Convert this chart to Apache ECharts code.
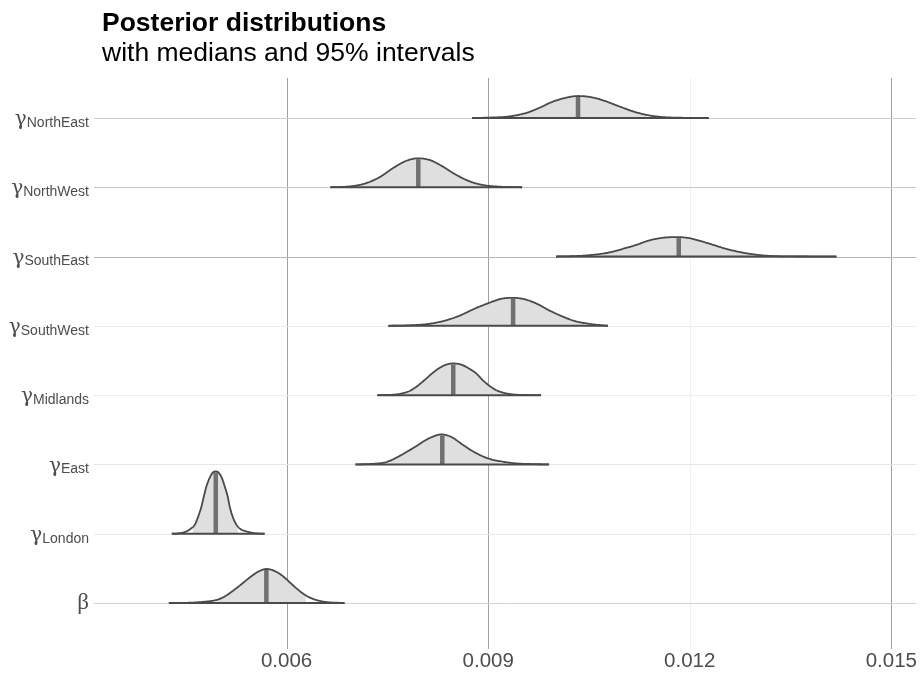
<!DOCTYPE html>
<html><head><meta charset="utf-8">
<script src="https://cdn.jsdelivr.net/npm/echarts@6/dist/echarts.min.js"></script>
<style>html,body{margin:0;padding:0;background:#fff}#c{width:920px;height:677px}</style>
</head><body><div id="c"></div>
<script>
// rows from bottom (0) to top (7)
const rowNames = ['β', 'London', 'East', 'Midlands', 'SouthWest', 'SouthEast', 'NorthWest', 'NorthEast'];
const xTicks = [0.006, 0.009, 0.012, 0.015];

const xBeta = [0.004248,0.004559,0.004782,0.004956,0.005079,0.005198,0.005332,0.005451,0.005569,0.005699,0.005822,0.005941,0.006074,0.006193,0.006312,0.006441,0.006590,0.006861];
const hBeta = [0,0.004,0.019,0.043,0.094,0.173,0.274,0.368,0.447,0.491,0.462,0.39,0.274,0.173,0.094,0.043,0.014,0];

const xLondon = [0.004292,0.004411,0.004510,0.004574,0.004634,0.004678,0.004733,0.004767,0.004807,0.004856,0.004901,0.004946,0.004990,0.005035,0.005079,0.005124,0.005153,0.005198,0.005253,0.005317,0.005402,0.005525,0.005673];
const hLondon = [0,0.007,0.033,0.072,0.13,0.231,0.394,0.534,0.683,0.808,0.88,0.899,0.88,0.808,0.683,0.534,0.394,0.245,0.13,0.065,0.033,0.007,0];

const xEast = [0.007025,0.007307,0.007485,0.007678,0.007812,0.007931,0.008049,0.008168,0.008302,0.008450,0.008614,0.008762,0.008911,0.009045,0.009163,0.009386,0.009609,0.009906];
const hEast = [0,0.01,0.033,0.12,0.195,0.264,0.339,0.397,0.433,0.397,0.289,0.195,0.12,0.072,0.048,0.017,0.006,0];

const xMidlands = [0.007351,0.007604,0.007723,0.007827,0.007931,0.008035,0.008153,0.008272,0.008376,0.008480,0.008599,0.008718,0.008822,0.008926,0.009015,0.009119,0.009267,0.009460,0.009787];
const hMidlands = [0,0.007,0.025,0.058,0.12,0.202,0.303,0.39,0.44,0.457,0.44,0.382,0.313,0.209,0.137,0.072,0.025,0.004,0];

const xSouthWest = [0.007515,0.007827,0.008124,0.008346,0.008569,0.008792,0.009015,0.009193,0.009371,0.009549,0.009728,0.009906,0.010084,0.010277,0.010500,0.010782];
const hSouthWest = [0,0.007,0.029,0.072,0.144,0.245,0.332,0.39,0.404,0.382,0.317,0.224,0.144,0.072,0.029,0];

const xSouthEast = [0.010010,0.010351,0.010604,0.010797,0.010990,0.011198,0.011391,0.011599,0.011807,0.011985,0.012134,0.012312,0.012475,0.012653,0.012832,0.013025,0.013247,0.013619,0.014183];
const hSouthEast = [0,0.009,0.029,0.058,0.107,0.166,0.231,0.271,0.281,0.267,0.231,0.18,0.13,0.084,0.049,0.022,0.007,0.001,0];

const xNorthWest = [0.006653,0.006936,0.007158,0.007381,0.007604,0.007782,0.007960,0.008139,0.008317,0.008495,0.008718,0.008941,0.009163,0.009505];
const hNorthWest = [0,0.012,0.051,0.144,0.289,0.382,0.418,0.39,0.303,0.195,0.087,0.029,0.009,0];

const xNorthEast = [0.008762,0.009059,0.009312,0.009564,0.009757,0.009950,0.010143,0.010337,0.010515,0.010693,0.010916,0.011138,0.011361,0.011584,0.011836,0.012282];
const hNorthEast = [0,0.007,0.022,0.072,0.144,0.231,0.289,0.317,0.303,0.26,0.18,0.101,0.043,0.014,0.004,0];

const medians = [0.005699, 0.004946, 0.008317, 0.008480, 0.009371, 0.011836, 0.007960, 0.010337];
const lower95 = [0.004960, 0.004604, 0.007530, 0.007782, 0.008272, 0.010723, 0.007114, 0.009386];
const upper95 = [0.006282, 0.005272, 0.009163, 0.009238, 0.010426, 0.012921, 0.008911, 0.011361];

const densX = [xBeta, xLondon, xEast, xMidlands, xSouthWest, xSouthEast, xNorthWest, xNorthEast];
const densH = [hBeta, hLondon, hEast, hMidlands, hSouthWest, hSouthEast, hNorthWest, hNorthEast];

// styling (not data)
const vGridColors = ['#a0a0a0', '#a0a0a0', '#f0f0f0', '#a0a0a0'];
const hGridColors = ['#d2d2d2', '#e8e8e8', '#e6e6e6', '#ececec', '#ececec', '#b4b4b4', '#c8c8c8', '#d0d0d0'];

function monotone(xs, ys) {
  const n = xs.length, d = [], m = new Array(n);
  for (let i = 0; i < n - 1; i++) d.push((ys[i + 1] - ys[i]) / (xs[i + 1] - xs[i]));
  m[0] = d[0]; m[n - 1] = d[n - 2];
  for (let i = 1; i < n - 1; i++) m[i] = (d[i - 1] * d[i] <= 0) ? 0 : (d[i - 1] + d[i]) / 2;
  for (let i = 0; i < n - 1; i++) {
    if (d[i] === 0) { m[i] = 0; m[i + 1] = 0; continue; }
    const a = m[i] / d[i], b = m[i + 1] / d[i], s = a * a + b * b;
    if (s > 9) { const t = 3 / Math.sqrt(s); m[i] = t * a * d[i]; m[i + 1] = t * b * d[i]; }
  }
  return function (x) {
    if (x <= xs[0]) return ys[0];
    if (x >= xs[n - 1]) return ys[n - 1];
    let k = 0;
    while (k < n - 2 && x > xs[k + 1]) k++;
    const h = xs[k + 1] - xs[k], t = (x - xs[k]) / h, t2 = t * t, t3 = t2 * t;
    return (2 * t3 - 3 * t2 + 1) * ys[k] + (t3 - 2 * t2 + t) * h * m[k] +
           (-2 * t3 + 3 * t2) * ys[k + 1] + (t3 - t2) * h * m[k + 1];
  };
}

const chart = echarts.init(document.getElementById('c'), null, { renderer: 'canvas' });
const XMIN = 0.0031338, XMAX = 0.015371, YMIN = -0.664, YMAX = 7.577;

function renderGrid(params, api) {
  const cs = params.coordSys;
  const kind = api.value(0), v = api.value(1), idx = api.value(2);
  if (kind === 0) {
    const p = api.coord([v, 0]);
    const x = Math.round(p[0]) + 0.5;
    return { type: 'line', shape: { x1: x, y1: cs.y, x2: x, y2: cs.y + cs.height },
      style: { stroke: vGridColors[idx], lineWidth: 1 }, silent: true };
  } else {
    const p = api.coord([XMIN, v]);
    const y = Math.round(p[1]) + 0.5;
    return { type: 'line', shape: { x1: cs.x, y1: y, x2: cs.x + cs.width, y2: y },
      style: { stroke: hGridColors[idx], lineWidth: 1 }, silent: true };
  }
}

function renderDensity(params, api) {
  const r = api.value(0);
  const xs = densX[r], hs = densH[r];
  const f = monotone(xs, hs);
  const lo = xs[0], hi = xs[xs.length - 1];
  const N = 300;
  const curve = [];
  for (let i = 0; i <= N; i++) {
    const x = lo + (hi - lo) * i / N;
    curve.push(api.coord([x, r + Math.max(0, f(x))]));
  }
  const fill = [];
  fill.push(api.coord([lower95[r], r]));
  fill.push(api.coord([lower95[r], r + f(lower95[r])]));
  for (let i = 0; i <= N; i++) {
    const x = lo + (hi - lo) * i / N;
    if (x > lower95[r] && x < upper95[r]) fill.push(api.coord([x, r + Math.max(0, f(x))]));
  }
  fill.push(api.coord([upper95[r], r + f(upper95[r])]));
  fill.push(api.coord([upper95[r], r]));
  const base0 = api.coord([lo, r]), base1 = api.coord([hi, r]);
  const m0 = api.coord([medians[r], r]), m1 = api.coord([medians[r], r + f(medians[r])]);
  return {
    type: 'group',
    children: [
      { type: 'polygon', shape: { points: fill }, style: { fill: '#dfdfdf', stroke: null } },
      { type: 'line', shape: { x1: m0[0], y1: m0[1], x2: m1[0], y2: m1[1] + 1 },
        style: { stroke: '#707070', lineWidth: 4.5 } },
      { type: 'polyline', shape: { points: curve }, style: { stroke: '#4a4a4a', lineWidth: 1.8, fill: null } },
      { type: 'line', shape: { x1: base0[0], y1: base0[1], x2: base1[0], y2: base1[1] },
        style: { stroke: '#4a4a4a', lineWidth: 2 } }
    ]
  };
}

const gridData = [];
xTicks.forEach((t, i) => gridData.push([0, t, i]));
rowNames.forEach((n, i) => gridData.push([1, i, i]));

const labelColor = '#4d4d4d';
chart.setOption({
  animation: false,
  backgroundColor: '#ffffff',
  title: [
    { text: 'Posterior distributions', left: 97, top: 5,
      textStyle: { fontFamily: 'Liberation Sans', fontSize: 26.5, fontWeight: 'bold', color: '#000' } },
    { text: 'with medians and 95% intervals', left: 97, top: 35,
      textStyle: { fontFamily: 'Liberation Sans', fontSize: 26.5, fontWeight: 'normal', color: '#000' } }
  ],
  grid: { left: 94, right: 2, top: 78, bottom: 28, containLabel: false },
  xAxis: {
    type: 'value', min: XMIN, max: XMAX,
    axisLine: { show: false }, axisTick: { show: false }, splitLine: { show: false },
    axisLabel: {
      customValues: xTicks, margin: 2,
      formatter: v => v.toFixed(3),
      fontFamily: 'Liberation Sans', fontSize: 20.5, color: labelColor
    }
  },
  yAxis: {
    type: 'value', min: YMIN, max: YMAX,
    axisLine: { show: false }, axisTick: { show: false }, splitLine: { show: false },
    axisLabel: {
      customValues: rowNames.map((n, i) => i), margin: 5,
      formatter: v => {
        const i = Math.round(v);
        if (i === 0) return '{b|β}';
        return '{g|γ}{s|' + rowNames[i] + '}';
      },
      rich: {
        g: { fontFamily: 'DejaVu Serif', fontSize: 20, color: labelColor, lineHeight: 24, padding: [4, 0, 0, 0] },
        s: { fontFamily: 'Liberation Sans', fontSize: 14, color: labelColor, lineHeight: 16, padding: [4, 0, 0, 0], verticalAlign: 'bottom' },
        b: { fontFamily: 'Liberation Serif', fontSize: 23, color: labelColor, lineHeight: 24 }
      }
    }
  },
  series: [
    { type: 'custom', name: 'grid', renderItem: renderGrid, data: gridData, z: 1, silent: true, clip: false },
    { type: 'custom', name: 'density', renderItem: renderDensity, data: rowNames.map((n, i) => [i]), z: 2, silent: true, clip: false }
  ]
});
</script>
</body></html>
